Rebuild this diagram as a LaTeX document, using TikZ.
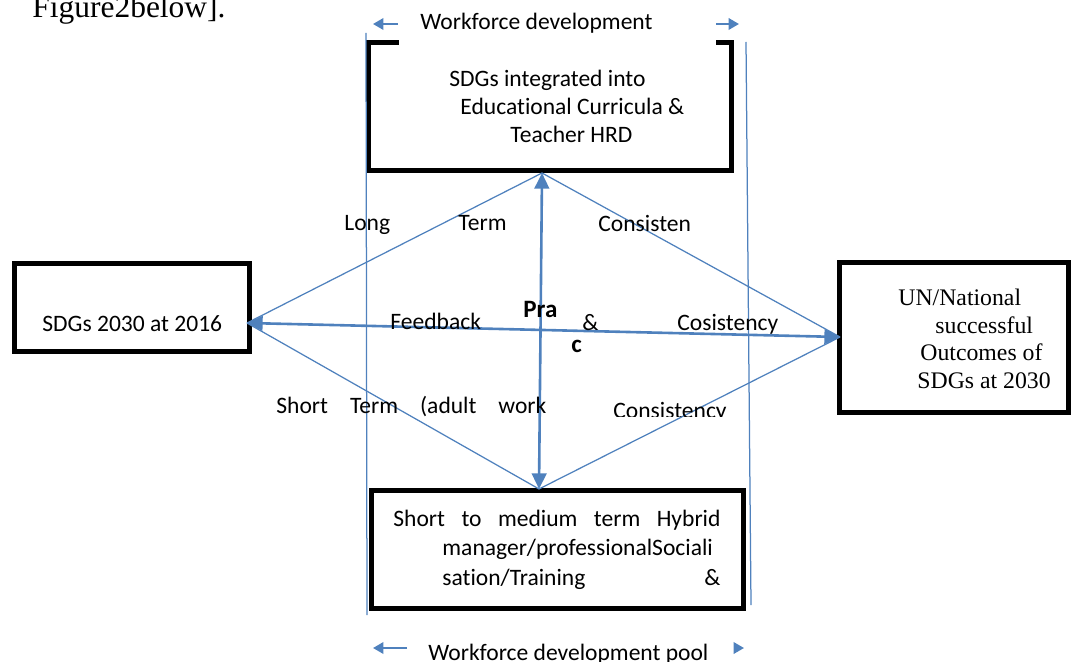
\documentclass[tikz,border=0pt]{standalone}
\usepackage{fontspec}
\setmainfont{Carlito}[Ligatures=NoCommon]
\newfontfamily\timesfont{Liberation Serif}
\usetikzlibrary{arrows.meta,calc}

\begin{document}
\begin{tikzpicture}[x=0.48pt,y=0.48pt,yscale=-1,
    txt/.style={anchor=base west,inner sep=0pt,font=\fontsize{11.3}{13.8}\selectfont},
    boldtxt/.style={anchor=base west,inner sep=0pt,font=\fontsize{12}{14}\selectfont\bfseries},
    serif/.style={anchor=base west,inner sep=0pt,font=\timesfont\fontsize{11.4}{13.2}\selectfont},
    frame/.style={draw=black,line width=2.4pt},
    thinlink/.style={draw={rgb, 255:red, 79; green, 129; blue, 189},line width=0.6pt},
    biglink/.style={draw={rgb, 255:red, 79; green, 129; blue, 189},line width=1.25pt,
        {Triangle[length=7.5pt,width=7pt]}-{Triangle[length=7.5pt,width=7pt]}},
    railarrow/.style={draw={rgb, 255:red, 79; green, 129; blue, 189},line width=1pt,
        -{Triangle[length=5pt,width=5.5pt]}}]
    \useasboundingbox (0,0) rectangle (1072,661);

    % Text Node
    \node[anchor=base west,inner sep=0pt,font=\timesfont\fontsize{15.1}{18}\selectfont] (fig) at (32,18) {Figure2below].};

    % Boxes
    \node[minimum width=173.8pt,minimum height=61pt] (topbox) at (550,106.5) {};
    \draw[frame] ($(topbox.north west)+(30,0)$) -- (topbox.north west) -- (topbox.south west)
        -- (topbox.south east) -- (topbox.north east) -- ($(topbox.north east)+(-15,0)$);
    \node[frame,minimum width=113pt,minimum height=42.7pt] (leftbox) at (132.25,307.5) {};
    \node[frame,minimum width=109.7pt,minimum height=72.2pt] (rightbox) at (953.75,337.75) {};
    \node[frame,minimum width=178.1pt,minimum height=56.2pt] (bottombox) at (557.5,549.5) {};

    % Rails
    \coordinate (railLtop) at (366,33);
    \coordinate (railLbot) at (367,615);
    \coordinate (railRtop) at (746,42);
    \coordinate (railRbot) at (751,605);
    \draw[thinlink] (railLtop) -- (railLbot);
    \draw[thinlink] (railRtop) -- (railRbot);

    % Diamond
    \coordinate (tipT) at (542,173);
    \coordinate (tipB) at (539,489);
    \coordinate (tipL) at (247,323);
    \coordinate (tipR) at (840,337);
    \draw[thinlink] (tipL) -- (tipT) -- (tipR);
    \draw[thinlink] (tipL) -- (tipB) -- (tipR);
    \draw[biglink] (tipT) -- (tipB);
    \draw[biglink] (tipL) -- (tipR);

    % Workforce arrows
    \coordinate (wtl) at (398,24);
    \coordinate (wtlEnd) at (373,24);
    \coordinate (wtr) at (716,24);
    \coordinate (wtrEnd) at (739,24);
    \coordinate (wbl) at (407,648);
    \coordinate (wblEnd) at (373,648);
    \coordinate (wbr) at (735,648);
    \coordinate (wbrEnd) at (744,648);
    \draw[railarrow] (wtl) -- (wtlEnd);
    \draw[railarrow] (wtr) -- (wtrEnd);
    \draw[railarrow] (wbl) -- (wblEnd);
    \draw[railarrow] (wbr) -- (wbrEnd);

    % Text Node
    \node[txt] (wftop) at (420,30) {Workforce development};
    \node[txt] (wfbottom) at (428,660) {Workforce development pool};
    % Text Node
    \node[txt] (top1) at (449,87) {SDGs integrated into};
    \node[txt] (top2) at (460,115) {Educational Curricula \&};
    \node[txt] (top3) at (510,143) {Teacher HRD};
    % Text Node
    \node[txt] (lefttxt) at (42,331) {SDGs 2030 at 2016};
    % Text Node
    \node[serif] (right1) at (898,305) {UN/National};
    \node[serif] (right2) at (935,333) {successful};
    \node[serif] (right3) at (920,360) {Outcomes of};
    \node[serif] (right4) at (917,388) {SDGs at 2030};
    % Text Node
    \node[txt] (bot1) at (393,526) {\makebox[157pt][s]{Short to medium term Hybrid}};
    \node[txt] (bot2) at (442,555) {manager/professionalSociali};
    \node[txt] (bot3) at (442,585) {\makebox[133.4pt][s]{sation/Training \&}};
    % Text Node
    \node[txt] (long) at (344,231) {Long};
    \node[txt] (term) at (458,231) {Term};
    \node[txt] (consisten) at (598,232) {Consisten};
    \node[txt] (feedback) at (390,329) {Feedback};
    \node[boldtxt] (pra) at (523,317) {Pra};
    \node[txt] (amp) at (582,330) {\&};
    \node[boldtxt] (cc) at (571,352) {c};
    \node[txt] (cosistency) at (677,330) {Cosistency};
    \node[txt] (shortterm) at (276,413) {\makebox[129.6pt][s]{Short Term (adult work}};
    \begin{scope}
        \clip (600,390) rectangle (740,416.7);
        \node[txt] (consistency) at (613,418) {Consistency};
    \end{scope}
\end{tikzpicture}
\end{document}
